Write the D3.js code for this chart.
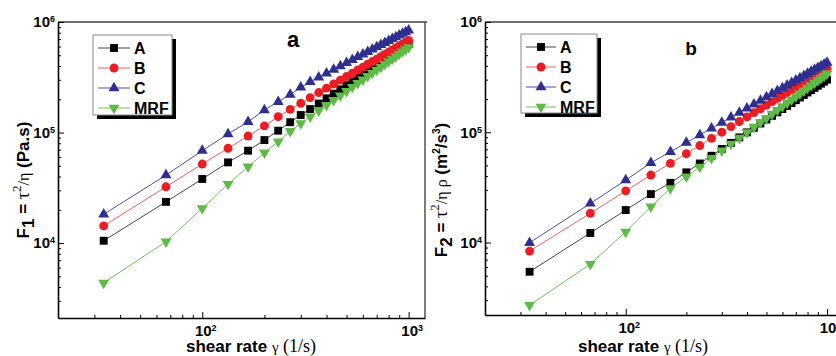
<!DOCTYPE html>
<html>
<head>
<meta charset="utf-8">
<script src="https://cdn.jsdelivr.net/npm/d3@7"></script>
<style>
  body { margin: 0; background: #fff; }
  svg { display: block; font-family: Arial, "Liberation Sans", sans-serif; }
</style>
</head>
<body>
<div id="chart"></div>
<script>
// shear rate values (1/s), shared by both panels
var shearRate = [33.3, 66.7, 100, 133.3, 166.7, 200, 233.3, 266.7, 300, 333.3,
  366.7, 400, 433.3, 466.7, 500, 533.3, 566.7, 600, 633.3, 666.7,
  700, 733.3, 766.7, 800, 833.3, 866.7, 900, 933.3, 966.7, 1000];

var seriesNames = ["A", "B", "C", "MRF"];

// panel a: F1 = tau^2/eta (Pa.s)
var f1A = [1.05e4, 2.36e4, 3.8e4, 5.37e4, 6.85e4, 8.55e4, 1.04e5, 1.24e5, 1.44e5, 1.63e5,
  1.83e5, 2.04e5, 2.25e5, 2.46e5, 2.68e5, 2.90e5, 3.13e5, 3.36e5, 3.59e5, 3.82e5,
  4.06e5, 4.30e5, 4.54e5, 4.78e5, 5.03e5, 5.28e5, 5.53e5, 5.78e5, 6.04e5, 6.30e5];
var f1B = [1.43e4, 3.23e4, 5.19e4, 7.2e4, 9.3e4, 1.15e5, 1.39e5, 1.62e5, 1.84e5, 2.07e5,
  2.30e5, 2.52e5, 2.75e5, 2.98e5, 3.21e5, 3.44e5, 3.68e5, 3.91e5, 4.15e5, 4.39e5,
  4.62e5, 4.86e5, 5.10e5, 5.34e5, 5.58e5, 5.83e5, 6.07e5, 6.31e5, 6.56e5, 6.80e5];
var f1C = [1.82e4, 4.12e4, 6.85e4, 9.7e4, 1.25e5, 1.6e5, 1.9e5, 2.21e5, 2.56e5, 2.88e5,
  3.16e5, 3.44e5, 3.72e5, 3.99e5, 4.27e5, 4.55e5, 4.83e5, 5.10e5, 5.38e5, 5.65e5,
  5.93e5, 6.21e5, 6.48e5, 6.76e5, 7.03e5, 7.31e5, 7.58e5, 7.85e5, 8.12e5, 8.40e5];
var f1MRF = [4.37e3, 1.03e4, 2.06e4, 3.42e4, 4.9e4, 6.56e4, 8.26e4, 1.03e5, 1.21e5, 1.39e5,
  1.58e5, 1.77e5, 1.96e5, 2.16e5, 2.37e5, 2.58e5, 2.79e5, 3.01e5, 3.24e5, 3.46e5,
  3.69e5, 3.92e5, 4.16e5, 4.40e5, 4.64e5, 4.89e5, 5.14e5, 5.39e5, 5.64e5, 5.90e5];

// panel b: F2 = tau^2/(eta rho) (m2/s3)
var f2A = [5.43e3, 1.22e4, 1.97e4, 2.75e4, 3.48e4, 4.33e4, 5.21e4, 6.12e4, 7.06e4, 8.01e4,
  8.98e4, 9.97e4, 1.098e5, 1.2e5, 1.304e5, 1.408e5, 1.515e5, 1.623e5, 1.732e5, 1.842e5,
  1.953e5, 2.066e5, 2.179e5, 2.293e5, 2.409e5, 2.525e5, 2.642e5, 2.76e5, 2.879e5, 3.0e5];
var f2B = [8.36e3, 1.84e4, 2.94e4, 4.09e4, 5.22e4, 6.39e4, 7.58e4, 8.79e4, 1.001e5, 1.125e5,
  1.251e5, 1.377e5, 1.505e5, 1.634e5, 1.764e5, 1.894e5, 2.026e5, 2.159e5, 2.292e5, 2.426e5,
  2.56e5, 2.696e5, 2.833e5, 2.969e5, 3.106e5, 3.243e5, 3.382e5, 3.521e5, 3.66e5, 3.80e5];
var f2C = [9.95e3, 2.26e4, 3.68e4, 5.28e4, 6.65e4, 8.04e4, 9.44e4, 1.084e5, 1.225e5, 1.367e5,
  1.51e5, 1.652e5, 1.796e5, 1.94e5, 2.084e5, 2.23e5, 2.375e5, 2.52e5, 2.665e5, 2.81e5,
  2.96e5, 3.105e5, 3.25e5, 3.40e5, 3.55e5, 3.70e5, 3.84e5, 3.99e5, 4.14e5, 4.29e5];
var f2MRF = [2.7e3, 6.37e3, 1.25e4, 2.11e4, 3.1e4, 3.96e4, 4.86e4, 5.81e4, 6.80e4, 7.83e4,
  8.89e4, 9.98e4, 1.111e5, 1.227e5, 1.345e5, 1.466e5, 1.59e5, 1.716e5, 1.845e5, 1.976e5,
  2.109e5, 2.244e5, 2.382e5, 2.521e5, 2.663e5, 2.805e5, 2.951e5, 3.097e5, 3.245e5, 3.40e5];

// tick values
var xMajorTicks = [100, 1000];
var xMinorTicks = [30, 40, 50, 60, 70, 80, 90, 200, 300, 400, 500, 600, 700, 800, 900];
var yMajorTicks = [1e4, 1e5, 1e6];
var yMinorTicks = [3000, 4000, 5000, 6000, 7000, 8000, 9000,
  2e4, 3e4, 4e4, 5e4, 6e4, 7e4, 8e4, 9e4, 2e5, 3e5, 4e5, 5e5, 6e5, 7e5, 8e5, 9e5];

var markColor = { A: "#000000", B: "#ec1c24", C: "#2e2f8f", MRF: "#5dbb46" };
var lineColor = { A: "#444444", B: "#f0605a", C: "#4a4ea6", MRF: "#6cc15a" };

var svg = d3.select("#chart").append("svg")
  .attr("width", 836)
  .attr("height", 356);

function marker(g, name, x, y) {
  var sym, size, rot = 0;
  if (name == "A") { sym = d3.symbolSquare; size = 62; }
  else if (name == "B") { sym = d3.symbolCircle; size = 62; }
  else if (name == "C") { sym = d3.symbolTriangle; size = 52; }
  else { sym = d3.symbolTriangle; size = 52; rot = 180; }
  g.append("path")
    .attr("d", d3.symbol().type(sym).size(size)())
    .attr("transform", "translate(" + x + "," + y + ") rotate(" + rot + ")")
    .attr("fill", markColor[name]);
}

// builds text from parts: {t, serif, size, dy}
function richText(el, parts) {
  parts.forEach(function(p) {
    var ts = el.append("tspan").text(p.t);
    if (p.serif) ts.attr("font-family", "'Liberation Serif', 'DejaVu Serif', serif").attr("font-weight", "normal");
    if (p.size) ts.attr("font-size", p.size + "px");
    if (p.dy) ts.attr("dy", p.dy);
  });
}

function powLabels(sel) {
  sel.selectAll(".tick text").each(function(d) {
    var t = d3.select(this);
    t.text("");
    t.append("tspan").text("10");
    t.append("tspan").attr("dy", "-0.55em").attr("font-size", "9px")
      .text(Math.round(Math.log10(d)));
  });
}

function drawPanel(p) {
  var x = d3.scaleLog().domain([20, 1200]).range([p.left, p.right]);
  var y = d3.scaleLog().domain([p.yMin, 1e6]).range([p.bottom, p.top]);
  var g = svg.append("g");

  // frame: grey top line and right line
  g.append("line").attr("x1", p.left).attr("x2", p.right + 2).attr("y1", p.top).attr("y2", p.top)
    .attr("stroke", "#707070").attr("stroke-width", 2);
  g.append("line").attr("x1", p.right).attr("x2", p.right).attr("y1", p.top).attr("y2", p.bottom)
    .attr("stroke", "#505050").attr("stroke-width", 1.5);

  // minor ticks
  g.append("g").attr("transform", "translate(0," + p.bottom + ")")
    .call(d3.axisBottom(x).tickValues(xMinorTicks).tickSize(-3).tickFormat(""))
    .call(function(a) { a.select(".domain").remove(); });
  g.append("g").attr("transform", "translate(" + p.left + ",0)")
    .call(d3.axisLeft(y).tickValues(yMinorTicks.filter(function(v) { return v > p.yMin; })).tickSize(-3).tickFormat(""))
    .call(function(a) { a.select(".domain").remove(); });

  // major axes
  var xa = g.append("g").attr("transform", "translate(0," + p.bottom + ")")
    .call(d3.axisBottom(x).tickValues(xMajorTicks).tickSizeInner(-6).tickSizeOuter(0).tickPadding(7));
  xa.call(powLabels);
  xa.selectAll(".tick text").attr("dx", "3").attr("font-size", "15px").attr("font-weight", "bold")
    .attr("font-family", "Arial, 'Liberation Sans', sans-serif").attr("fill", "#000");
  xa.select(".domain").attr("stroke-width", 1.6);

  var ya = g.append("g").attr("transform", "translate(" + p.left + ",0)")
    .call(d3.axisLeft(y).tickValues(yMajorTicks).tickSizeInner(-6).tickSizeOuter(0).tickPadding(3));
  ya.call(powLabels);
  ya.selectAll(".tick text").attr("font-size", "15px").attr("font-weight", "bold")
    .attr("font-family", "Arial, 'Liberation Sans', sans-serif").attr("fill", "#000");
  ya.select(".domain").attr("stroke-width", 1.6);

  // series
  var line = d3.line()
    .x(function(d) { return x(d[0]); })
    .y(function(d) { return y(d[1]); });
  seriesNames.forEach(function(name) {
    var pts = shearRate.map(function(s, i) { return [s, p.data[name][i]]; });
    g.append("path").datum(pts).attr("d", line)
      .attr("fill", "none").attr("stroke", lineColor[name]).attr("stroke-width", 1);
    pts.forEach(function(d) { marker(g, name, x(d[0]), y(d[1])); });
  });

  // legend
  var L = p.legend;
  g.append("rect").attr("x", L.x + 4).attr("y", L.y + 4).attr("width", L.w).attr("height", L.h).attr("fill", "#000");
  g.append("rect").attr("x", L.x).attr("y", L.y).attr("width", L.w).attr("height", L.h)
    .attr("fill", "#fff").attr("stroke", "#888").attr("stroke-width", 1);
  seriesNames.forEach(function(name, i) {
    var yy = L.y + 13 + i * 20;
    g.append("line").attr("x1", L.x + 5).attr("x2", L.x + 5 + L.line).attr("y1", yy).attr("y2", yy)
      .attr("stroke", lineColor[name]).attr("stroke-width", 1);
    marker(g, name, L.x + 5 + L.line / 2, yy);
    g.append("text").attr("x", L.x + L.line + 9).attr("y", yy).attr("dy", "0.36em")
      .attr("font-size", "16px").attr("font-weight", "bold").text(name);
  });

  // panel letter
  g.append("text").attr("x", p.letterX).attr("y", p.letterY).attr("text-anchor", "middle")
    .attr("font-size", p.letterSize + "px").attr("font-weight", "bold").text(p.letter);

  // x title
  var xt = g.append("text").attr("x", p.xTitleX).attr("y", 352).attr("text-anchor", "middle")
    .attr("font-size", "17px").attr("font-weight", "bold");
  richText(xt, [{ t: "shear rate " }, { t: "\u03b3", serif: true, size: 15 }, { t: " (1/s)", serif: true, size: 18 }]);

  // y title
  var yt = g.append("text").attr("transform", "translate(" + p.yTitleX + "," + p.yTitleY + ") rotate(-90)")
    .attr("text-anchor", "middle").attr("font-size", "17px").attr("font-weight", "bold");
  richText(yt, p.yTitle);
}

drawPanel({
  left: 58, right: 425, top: 22, bottom: 318, yMin: 2100,
  data: { A: f1A, B: f1B, C: f1C, MRF: f1MRF },
  legend: { x: 93, y: 35, w: 79, h: 80, line: 32 },
  letter: "a", letterX: 293, letterY: 47, letterSize: 22,
  xTitleX: 251, yTitleX: 29, yTitleY: 180,
  yTitle: [{ t: "F" }, { t: "1", dy: 5 }, { t: " = ", dy: -5 }, { t: "\u03c4", serif: true, size: 18 },
    { t: "2", serif: true, size: 13, dy: -8 }, { t: "/\u03b7", serif: true, size: 16, dy: 8 }, { t: " (Pa.s)" }]
});

drawPanel({
  left: 485, right: 843, top: 22, bottom: 315, yMin: 2200,
  data: { A: f2A, B: f2B, C: f2C, MRF: f2MRF },
  legend: { x: 521, y: 34, w: 76, h: 79, line: 30 },
  letter: "b", letterX: 691, letterY: 55, letterSize: 19,
  xTitleX: 643, yTitleX: 447, yTitleY: 190,
  yTitle: [{ t: "F" }, { t: "2", dy: 5 }, { t: " = ", dy: -5 }, { t: "\u03c4", serif: true, size: 18 },
    { t: "2", serif: true, size: 13, dy: -8 }, { t: "/\u03b7 \u03c1", serif: true, size: 16, dy: 8 },
    { t: " (m" }, { t: "2", size: 10, dy: -7 }, { t: "/s", dy: 7 }, { t: "3", size: 10, dy: -7 }, { t: ")", dy: 7 }]
});
</script>
</body>
</html>
